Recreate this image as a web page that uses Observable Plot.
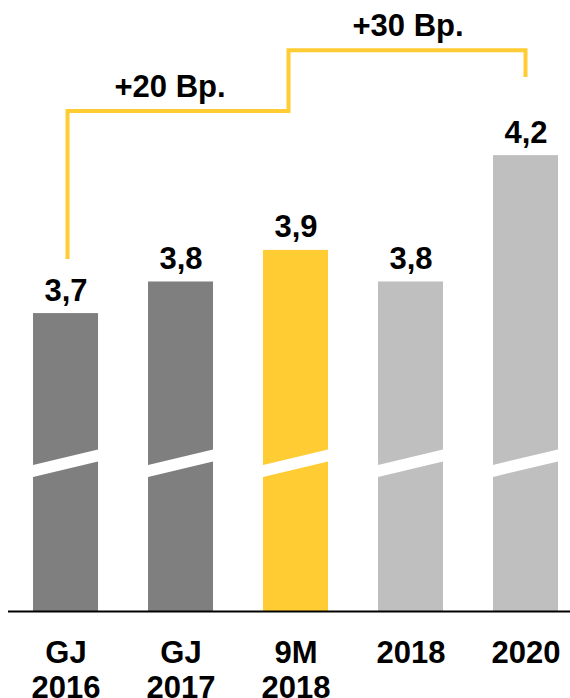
<!DOCTYPE html>
<html><head><meta charset="utf-8">
<script src="https://cdn.jsdelivr.net/npm/d3@7"></script>
<script src="https://cdn.jsdelivr.net/npm/@observablehq/plot@0.6"></script>
<style>
body{margin:0;background:#fff;}
#chart svg{display:block;font-family:"Liberation Sans",Arial,sans-serif;}
</style>
</head><body><div id="chart"></div>
<script>
// ---- data ----
const categories  = ["GJ 2016", "GJ 2017", "9M 2018", "2018", "2020"];
const tickLabels  = ["GJ\n2016", "GJ\n2017", "9M\n2018", "2018", "2020"];
const values      = [3.7, 3.8, 3.9, 3.8, 4.2];
const valueLabels = ["3,7", "3,8", "3,9", "3,8", "4,2"];
const barGroups   = ["past", "past", "current", "target", "target"];
const deltaLabels = ["+20 Bp.", "+30 Bp."];
const deltaAnchor = ["GJ 2017", "2018"];
const deltaLevels = [4.385, 4.580];
const bracketCats   = ["GJ 2016", "GJ 2016", "9M 2018", "9M 2018", "2020", "2020"];
const bracketLevels = [3.871, 4.340, 4.340, 4.532, 4.532, 4.447];
const breakLevel = 3.225;          // value at which the bars are cut (broken axis)
const axisBase   = 2.757;          // value shown at the baseline (broken axis)
const axisTop    = 4.691;

const colorMap = {past: "#7F7F7F", current: "#FFCC33", target: "#BFBFBF"};
const bars = categories.map((c, i) => ({cat: c, value: values[i], label: valueLabels[i], group: barGroups[i], tick: tickLabels[i]}));
const deltas = deltaLabels.map((t, i) => ({text: t, cat: deltaAnchor[i], level: deltaLevels[i]}));

const FONT = 31;

// white slanted break stripe across each bar
function breakStripes(index, scales) {
  const {x, y} = scales;
  const bw = typeof x.bandwidth === "function" ? x.bandwidth() : x.bandwidth;
  const g = d3.create("svg:g").attr("fill", "white");
  const yc = y(breakLevel);
  const half = 6, rise = 8;
  for (const c of categories) {
    const x0 = x(c), x1 = x0 + bw;
    g.append("path").attr("d",
      `M${x0 - 1},${yc + rise + half}L${x1 + 1},${yc - rise + half}L${x1 + 1},${yc - rise - half}L${x0 - 1},${yc + rise - half}Z`);
  }
  return g.node();
}

// yellow step bracket
function bracket(index, scales) {
  const {x, y} = scales;
  const bw = typeof x.bandwidth === "function" ? x.bandwidth() : x.bandwidth;
  const offs = [2, 2, -7, -7, 0, 0];
  const pts = bracketCats.map((c, i) => [x(c) + bw / 2 + offs[i], y(bracketLevels[i])]);
  return d3.create("svg:path")
    .attr("d", d3.line()(pts))
    .attr("fill", "none")
    .attr("stroke", "#FFCC33")
    .attr("stroke-width", 4)
    .node();
}

const chart = Plot.plot({
  width: 570,
  height: 698,
  marginTop: 0,
  marginBottom: 87,
  marginLeft: 8,
  marginRight: 0,
  style: {fontFamily: "'Liberation Sans', Arial, sans-serif", background: "white"},
  x: {domain: categories, paddingInner: 0.4348, paddingOuter: 0.161, align: 0.676, round: false, axis: null},
  y: {domain: [axisBase, axisTop], axis: null},
  marks: [
    Plot.barY(bars, {x: "cat", y1: () => axisBase, y2: "value", fill: d => colorMap[d.group]}),
    breakStripes,
    Plot.ruleY([axisBase], {stroke: "black", strokeWidth: 2}),
    Plot.text(bars, {x: "cat", y: "value", text: "label", lineAnchor: "bottom", dy: -13,
      fontSize: FONT, fontWeight: "bold", fill: "black"}),
    Plot.text(bars, {x: "cat", y: () => axisBase, text: "tick", lineAnchor: "top", dy: 27, lineHeight: 1.129,
      fontSize: FONT, fontWeight: "bold", fill: "black"}),
    bracket,
    Plot.text(deltas.slice(0, 1), {x: "cat", y: "level", text: "text", lineAnchor: "bottom", dx: -11,
      fontSize: FONT, fontWeight: "bold", fill: "black"}),
    Plot.text(deltas.slice(1), {x: "cat", y: "level", text: "text", lineAnchor: "bottom", dx: -3,
      fontSize: FONT, fontWeight: "bold", fill: "black"})
  ]
});
document.getElementById("chart").appendChild(chart);
</script>
</body></html>
